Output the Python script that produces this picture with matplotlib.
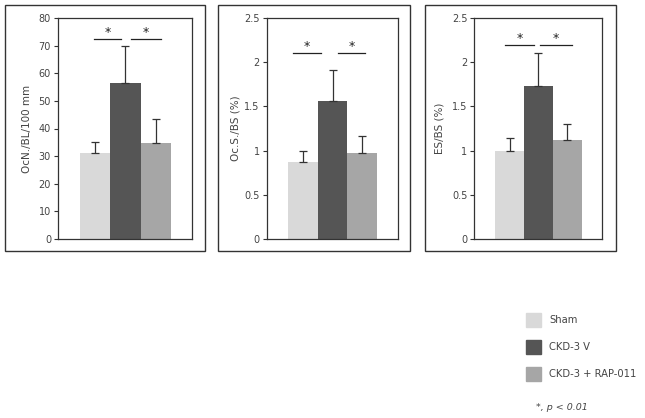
import matplotlib
matplotlib.use('Agg')
import matplotlib.pyplot as plt
from matplotlib.patches import Rectangle

groups = ['Sham', 'CKD-3 V', 'CKD-3 + RAP-011']
colors = ['#d9d9d9', '#555555', '#a6a6a6']

ocn_mean = [31, 56.6, 34.7]
ocn_top = [35.2, 69.9, 43.6]
ocs_mean = [0.87, 1.56, 0.97]
ocs_top = [1.0, 1.91, 1.16]
es_mean = [0.99, 1.73, 1.12]
es_top = [1.14, 2.1, 1.3]

ylabels = ['OcN./BL/100 mm', 'Oc.S./BS (%)', 'ES/BS (%)']
ymaxes = [80, 2.5, 2.5]
yticks = [[0, 10, 20, 30, 40, 50, 60, 70, 80],
          [0, 0.5, 1, 1.5, 2, 2.5],
          [0, 0.5, 1, 1.5, 2, 2.5]]
ytick_labels = [['0', '10', '20', '30', '40', '50', '60', '70', '80'],
                ['0', '0.5', '1', '1.5', '2', '2.5'],
                ['0', '0.5', '1', '1.5', '2', '2.5']]
sig_y = [72.3, 2.105, 2.19]
sig_spans = [[(-0.03, 0.86), (1.19, 2.16)],
             [(-0.33, 0.6), (1.18, 2.1)],
             [(-0.15, 0.83), (1.06, 2.16)]]

W, H = 645, 418
fig = plt.figure(figsize=(W / 100, H / 100), dpi=100)
txt = '#444444'
edge = '#333333'

# pixel layout: outer box (x0, x1), inner axes (x0, x1), ylabel right edge x
outer = [(5, 205), (218, 410), (425, 616)]
inner = [(58, 192), (266.7, 397.7), (474.3, 601.7)]
ylab_x = [32, 240, 445]
top_px, bot_px = 18, 239

means = [ocn_mean, ocs_mean, es_mean]
tops = [ocn_top, ocs_top, es_top]

for i in range(3):
    ox0, ox1 = outer[i]
    fig.patches.append(Rectangle((ox0 / W, 1 - 251 / H), (ox1 - ox0) / W, (251 - 5) / H,
                                 transform=fig.transFigure, fill=False,
                                 edgecolor=edge, lw=1.0))
    ix0, ix1 = inner[i]
    ax = fig.add_axes([ix0 / W, 1 - bot_px / H, (ix1 - ix0) / W, (bot_px - top_px) / H])
    x = [0, 1, 2]
    ax.bar(x, means[i], width=1.0, color=colors)
    err = [t - m for t, m in zip(tops[i], means[i])]
    ax.errorbar(x, means[i], yerr=[[0, 0, 0], err], fmt='none',
                ecolor=edge, elinewidth=0.9, capsize=3, capthick=0.9)
    ax.set_xlim(-1.22, 3.19)
    ax.set_ylim(0, ymaxes[i])
    ax.set_yticks(yticks[i])
    ax.set_yticklabels(ytick_labels[i])
    ax.set_xticks([])
    ax.tick_params(axis='y', direction='out', length=3, width=0.8,
                   labelsize=7, labelcolor=txt, color=edge, pad=2)
    for s in ax.spines.values():
        s.set_color(edge)
        s.set_linewidth(0.9)
    ax.set_ylabel(ylabels[i], fontsize=7.5, color=txt)
    ax.yaxis.set_label_coords((ylab_x[i] - ix0) / (ix1 - ix0), 0.5)
    for a, b in sig_spans[i]:
        ax.plot([a, b], [sig_y[i], sig_y[i]], color='#222222', lw=0.9)
        ax.text((a + b) / 2, sig_y[i], '*', ha='center', va='bottom',
                fontsize=9, color='#222222')

# legend
leg_y = [313, 340, 367]
for c, lab, y in zip(colors, groups, leg_y):
    fig.patches.append(Rectangle((526 / W, 1 - (y + 14) / H), 14.5 / W, 14 / H,
                                 transform=fig.transFigure, color=c))
    fig.text(549 / W, 1 - (y + 7) / H, lab, fontsize=7.2, color=txt, va='center')
fig.text(536 / W, 1 - 407 / H, '*, p < 0.01', fontsize=6.8, style='italic',
         color=txt, va='center')

fig.savefig('out.png', dpi=100)
